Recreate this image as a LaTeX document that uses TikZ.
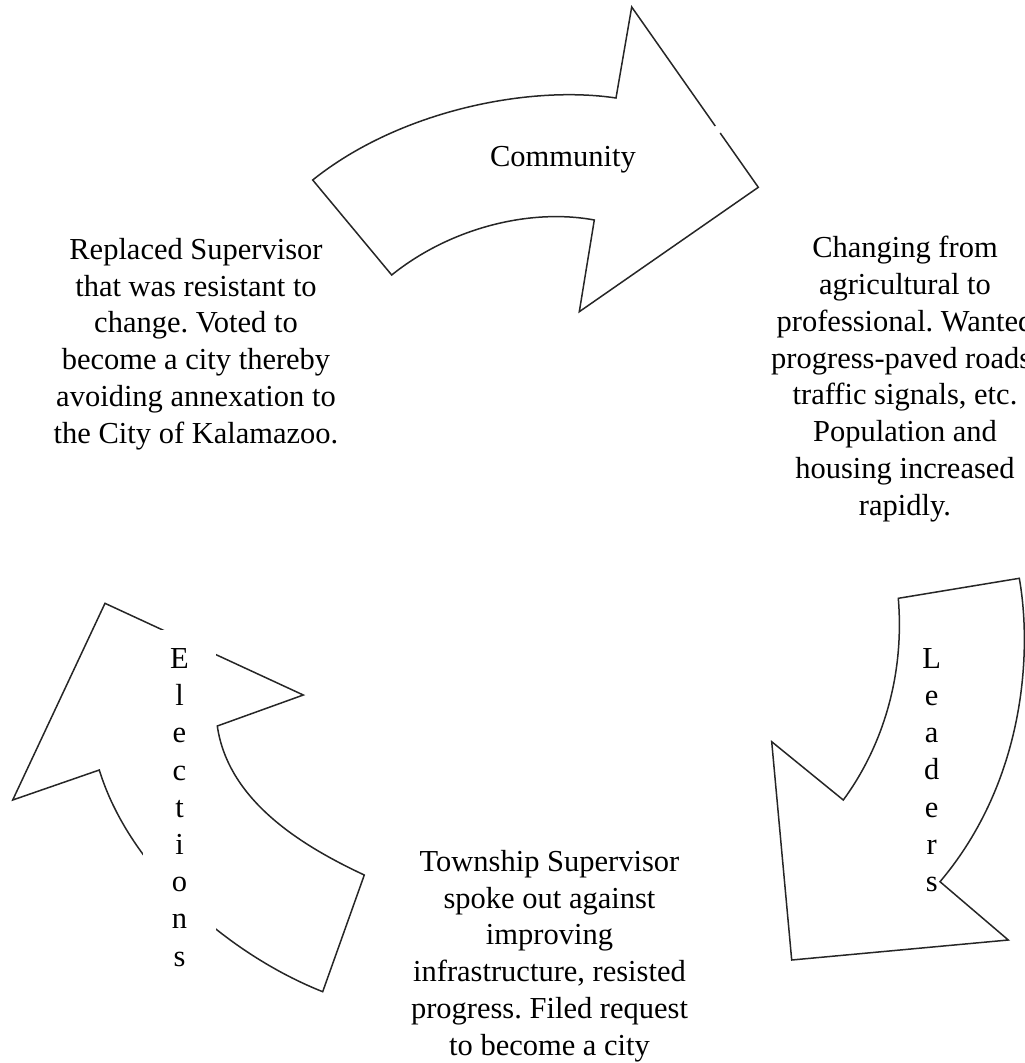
\documentclass[tikz,border=0pt]{standalone}
\usepackage{fontspec}
\setmainfont{Liberation Serif}
\usetikzlibrary{calc}
\frenchspacing
\begin{document}
\begin{tikzpicture}[x=1pt,y=-1pt,
  arrowline/.style={draw=black!85, line width=1.5pt, line join=miter},
  txt/.style={font=\fontsize{30.5}{36.8}\selectfont, align=center, inner sep=0pt},
  vtxt/.style={font=\fontsize{30.5}{37.2}\selectfont, align=center, inner sep=0pt}]
\useasboundingbox (0,0) rectangle (1025,1063);
\clip (0,0) rectangle (1025,1063);

% Community arrow (curved, pointing right)
\coordinate (ca) at (631.7,7);
\coordinate (cb) at (616,98);
\coordinate (cc) at (312.7,180);
\coordinate (cd) at (391.7,275);
\coordinate (ce) at (594.3,220);
\coordinate (cf) at (579.3,311.7);
\coordinate (cg) at (758.3,187.3);
\draw[arrowline] ($(ca)!0.699!(cg)$) -- (cg) -- (cf) -- (ce)
  .. controls (530,208) and (450,228) .. (cd) -- (cc)
  .. controls (400,110) and (530,85) .. (cb) -- (ca) -- ($(ca)!0.66!(cg)$);

% Leaders arrow (curved, pointing down-left)
\coordinate (l1) at (898.3,598.3);
\coordinate (l2) at (1019.3,578.3);
\coordinate (l3) at (940,881.7);
\coordinate (l4) at (1008.3,940);
\coordinate (l5) at (791.7,960);
\coordinate (l6) at (771.7,741.7);
\coordinate (l7) at (843.3,800);
\draw[arrowline] (l1) -- (l2)
  .. controls (1032,650) and (1026,780) .. (l3) -- (l4) -- (l5) -- (l6) -- (l7)
  .. controls (880,750) and (905,680) .. cycle;

% Elections arrow (curved, pointing up-left)
\coordinate (e1) at (105,603.3);
\coordinate (e2) at (303.3,695);
\coordinate (e3) at (217.3,726);
\coordinate (e4) at (364.3,875);
\coordinate (e5) at (322.7,991.7);
\coordinate (e6) at (99.3,770);
\coordinate (e7) at (12.7,800);
\draw[arrowline] (e1) -- (e2) -- (e3)
  .. controls (228,800) and (300,845) .. (e4) -- (e5)
  .. controls (230,955) and (130,870) .. (e6) -- (e7) -- cycle;

% Arrow labels
\node[txt, anchor=base] (community) at (563,166) {Community};
\node[vtxt, fill=white, minimum width=73pt, minimum height=355pt] (elections)
  at (179.5,807.5) {E\\l\\e\\c\\t\\i\\o\\n\\s};
\node[vtxt] (leaders) at (931.7,770) {L\\e\\a\\d\\e\\r\\s};

% Descriptions
\node[txt] (replaced) at (196,344) {Replaced Supervisor\\that was resistant to\\change. Voted to\\become a city thereby\\avoiding annexation to\\the City of Kalamazoo.};
\node[txt] (changing) at (905,379) {Changing from\\agricultural to\\professional. Wanted\\progress-paved roads,\\traffic signals, etc.\\Population and\\housing increased\\rapidly.};
\node[txt] (township) at (549.5,956) {Township Supervisor\\spoke out against\\improving\\infrastructure, resisted\\progress. Filed request\\to become a city};
\end{tikzpicture}
\end{document}
